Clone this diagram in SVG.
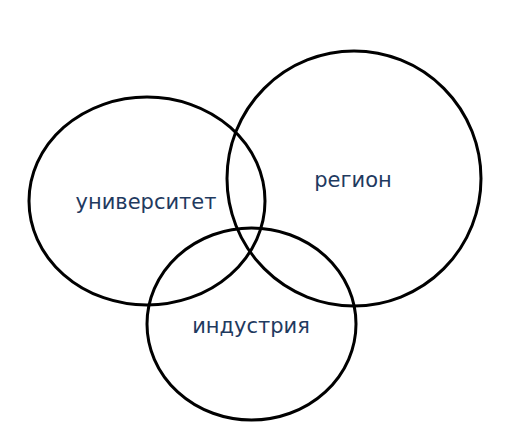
<svg xmlns="http://www.w3.org/2000/svg" width="509" height="445" viewBox="0 0 509 445">
<style>
.c{fill:none;stroke:#000;stroke-width:3}
.t{font-family:"DejaVu Sans",Verdana,sans-serif;font-size:21px;fill:#1f3a5f;text-anchor:middle}
</style>
<rect width="509" height="445" fill="#fff"/>
<g id="universitet"><ellipse class="c" cx="147" cy="201" rx="118" ry="104"/><text class="t" x="146" y="208.5">университет</text></g>
<g id="region"><ellipse class="c" cx="354" cy="178.5" rx="127" ry="127.5"/><text class="t" x="353" y="186.5">регион</text></g>
<g id="industriya"><ellipse class="c" cx="251.5" cy="324" rx="104.5" ry="96"/><text class="t" x="251" y="332.5">индустрия</text></g>
<g id="connectors"/>
</svg>
